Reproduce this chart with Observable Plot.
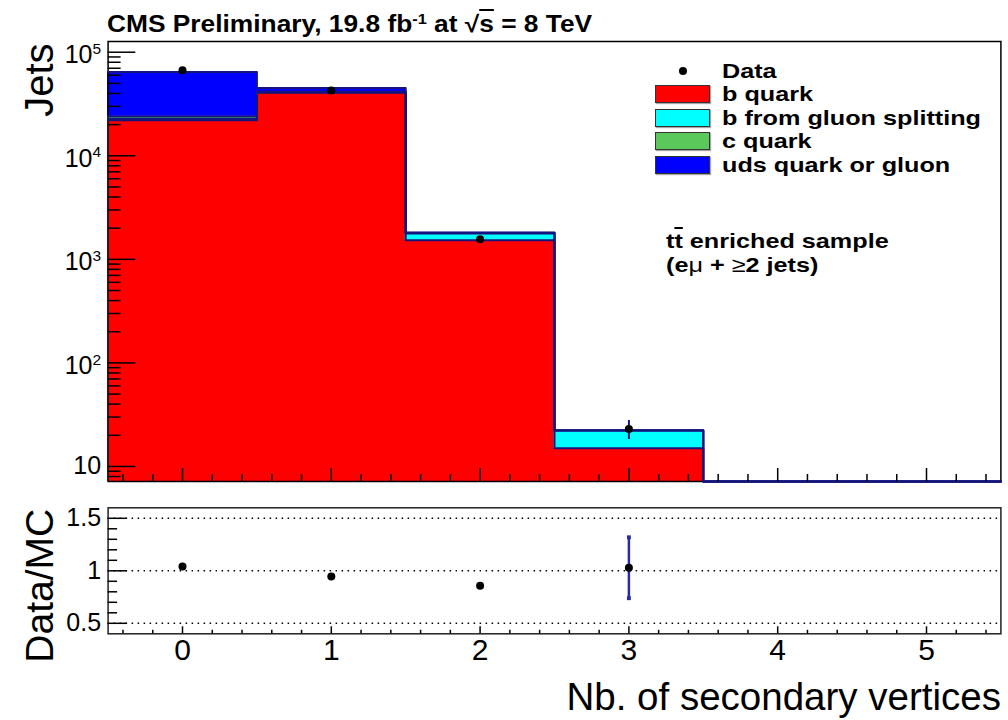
<!DOCTYPE html>
<html>
<head>
<meta charset="utf-8">
<script src="https://cdn.jsdelivr.net/npm/d3@7"></script>
<script src="https://cdn.jsdelivr.net/npm/@observablehq/plot@0.6"></script>
<style>
  body { margin: 0; background: #fff; }
  #chart { position: relative; width: 1008px; height: 720px; overflow: hidden;
           font-family: "Liberation Sans", Arial, Helvetica, sans-serif; color: #000; }
  #chart svg { position: absolute; left: 0; overflow: visible; }
  .wide { display: inline-block; transform-origin: 0 50%; white-space: nowrap; }
  .title { position: absolute; left: 107px; top: 12.6px; font-size: 23.5px; line-height: 23.5px;
           font-weight: bold; white-space: nowrap; }
  .title .wide { transform: scaleX(1.12); }
  .sup { font-size: 0.62em; position: relative; top: -0.55em; }
  .over { text-decoration: overline; }
  .legend { position: absolute; left: 655px; top: 58.75px; font-weight: bold; font-size: 21px; }
  .legend .row { display: flex; align-items: center; height: 23.5px; line-height: 23.5px; white-space: nowrap; }
  .legend .sym { width: 55px; height: 17px; margin-right: 12px; display: flex; align-items: center; justify-content: center; }
  .legend .box { width: 53px; height: 16px; border: 1px solid #333; box-shadow: 1px 1px 1px rgba(0,0,0,0.35); }
  .legend .mark { width: 8px; height: 8px; border-radius: 50%; background: #000; }
  .legend .wide { transform: scaleX(1.2); }
  .note { position: absolute; left: 666px; top: 229.3px; font-weight: bold; font-size: 21px; }
  .note .line { height: 23.5px; line-height: 23.5px; }
  .note .wide { transform: scaleX(1.2); }
  .note .sym { font-weight: normal; }
</style>
</head>
<body>
<div id="chart"></div>
<script>
// Bins: number of reconstructed secondary vertices per jet
const bins = [0, 1, 2, 3, 4, 5];

// Simulated jet counts per flavour (stacked, bottom to top)
const bQuark        = [22000, 40500, 1530, 15,   0, 0];
const bGluonSplit   = [600,   500,   250,  7.2,  0, 0];
const cQuark        = [1400,  600,   20,   0.1,  0, 0];
const udsQuarkGluon = [40400, 3500,  20,   0.05, 0, 0];

// Observed data (bins 0-3) and their statistical errors
const dataBins   = [0, 1, 2, 3];
const dataCounts = [67000, 42700, 1560, 23];
const dataErrors = [259, 207, 39.5, 4.8];
const ratioErrors = [0.004, 0.005, 0.022, 0.29];

// Axis ticks
const yTicksUpper = [10, 100, 1000, 10000, 100000];
const yTicksLower = [0.5, 1, 1.5];
const xTickLabels = ["0", "1", "2", "3", "4", "5"];

const layers = [
  {name: "b quark", values: bQuark, color: "#ff0000"},
  {name: "b from gluon splitting", values: bGluonSplit, color: "#00ffff"},
  {name: "c quark", values: cQuark, color: "#5ac85a"},
  {name: "uds quark or gluon", values: udsQuarkGluon, color: "#0000ff"}
];

const FONT = '"Liberation Sans", Arial, Helvetica, sans-serif';
const NAVY = "#15157e";
const W = 1008;
const frameL = 107.6, frameR = 1000.4;
const frameW = frameR - frameL;
const upperH = 490, upperTop = 41, upperBottom = 9;
const upperFrameH = upperH - upperTop - upperBottom;
const lowerH = 230, lowerTop = 17.3, lowerBottom = 86.7;
const lowerFrameH = lowerH - lowerTop - lowerBottom;
const yDomain = [7.16, 1.269e5];
const yFloor = yDomain[0];

// Cumulative stack
let running = bins.map(() => 0);
const stacked = layers.map((layer, k) => {
  const lo = running;
  const hi = lo.map((v, i) => v + layer.values[i]);
  running = hi;
  return {layer, k, lo, hi};
});
const totals = running;

const stackRects = stacked.flatMap(({layer, lo, hi}) =>
  bins.filter(i => hi[i] > lo[i]).map(i => ({
    bin: i, lo: Math.max(lo[i], yFloor), hi: hi[i], color: layer.color
  })));

// Step outline of each cumulative layer (empty bins sit on the frame floor)
const outline = stacked.flatMap(({hi, k}) => [
  ...bins.map(i => ({k, edge: i - 0.5, top: Math.max(hi[i], yFloor)})),
  {k, edge: bins.length - 0.5, top: Math.max(hi[bins.length - 1], yFloor)}
]);

const dataPts = dataBins.map((b, i) => ({bin: b, v: dataCounts[i], e: dataErrors[i]}));
const ratioPts = dataBins.map((b, i) => ({bin: b, r: dataCounts[i] / totals[b], e: ratioErrors[i]}));

// Minor ticks
const yMinorUpper = d3.range(0, 6).flatMap(p => d3.range(2, 10).map(m => m * 10 ** p))
  .filter(v => v > yDomain[0] && v < yDomain[1]);
const xMajor = bins;
const xMinor = d3.range(-2, 28).filter(k => k % 5 !== 0).map(k => k * 0.2);
const yMinorLower = d3.range(5, 16).filter(k => k % 5 !== 0).map(k => k / 10);

const upper = Plot.plot({
  width: W, height: upperH,
  marginLeft: frameL, marginRight: W - frameR, marginTop: upperTop, marginBottom: upperBottom,
  x: {domain: [-0.5, 5.5], axis: null},
  y: {type: "log", domain: yDomain},
  style: {fontFamily: FONT, background: "transparent"},
  marks: [
    Plot.rect(stackRects, {
      x1: d => d.bin - 0.5, x2: d => d.bin + 0.5, y1: "lo", y2: "hi", fill: "color",
      insetLeft: -0.5, insetRight: -0.5
    }),
    Plot.frame({stroke: "#000", strokeWidth: 1.5}),
    Plot.line(outline, {x: "edge", y: "top", z: "k", curve: "step-after", stroke: NAVY, strokeWidth: 2}),
    Plot.tickY(yTicksUpper, {y: d => d, insetRight: frameW - 27.7, stroke: "#000", strokeWidth: 1.5}),
    Plot.tickY(yMinorUpper, {y: d => d, insetRight: frameW - 13, stroke: "#000", strokeWidth: 1.5}),
    Plot.tickX(xMajor, {x: d => d, insetTop: upperFrameH - 13, stroke: "#000", strokeWidth: 1.5}),
    Plot.tickX(xMinor, {x: d => d, insetTop: upperFrameH - 7, stroke: "#000", strokeWidth: 1.5}),
    Plot.axisY(yTicksUpper, {
      tickSize: 0, tickPadding: 7, fontSize: 25, label: null,
      tickFormat: d => d === 10 ? "10" : "10^" + Math.round(Math.log10(d))
    }),
    Plot.ruleX(dataPts, {x: "bin", y1: d => d.v - d.e, y2: d => d.v + d.e, stroke: NAVY, strokeWidth: 2}),
    Plot.dot(dataPts, {x: "bin", y: "v", r: 4, fill: "#000"}),
    Plot.text(["Jets"], {
      frameAnchor: "top-left", rotate: -90, textAnchor: "end", lineAnchor: "bottom",
      dx: 52 - frameL, dy: 2, fontSize: 40
    })
  ]
});
upper.style.top = "0px";

// Powers of ten as superscripts
d3.select(upper).selectAll('g[aria-label="y-axis tick label"] text').each(function () {
  const s = this.textContent;
  if (!s.includes("^")) return;
  const [base, exp] = s.split("^");
  this.textContent = "";
  const t = d3.select(this);
  t.append("tspan").attr("dy", "0.12em").text(base);
  t.append("tspan").attr("dy", "-0.6em").attr("font-size", "0.62em").text(exp);
});

const lower = Plot.plot({
  width: W, height: lowerH,
  marginLeft: frameL, marginRight: W - frameR, marginTop: lowerTop, marginBottom: lowerBottom,
  x: {domain: [-0.5, 5.5]},
  y: {domain: [0.4, 1.6]},
  style: {fontFamily: FONT, background: "transparent"},
  marks: [
    Plot.ruleY(yTicksLower, {y: d => d, stroke: "#000", strokeWidth: 1.5, strokeDasharray: "1.5,4.5"}),
    Plot.frame({stroke: "#222", strokeWidth: 1.5}),
    Plot.tickY(yTicksLower, {y: d => d, insetRight: frameW - 19, stroke: "#000", strokeWidth: 1.5}),
    Plot.tickY(yMinorLower, {y: d => d, insetRight: frameW - 9.5, stroke: "#000", strokeWidth: 1.5}),
    Plot.tickX(xMajor, {x: d => d, insetTop: lowerFrameH - 7, stroke: "#000", strokeWidth: 1.5}),
    Plot.tickX(xMinor, {x: d => d, insetTop: lowerFrameH - 3.5, stroke: "#000", strokeWidth: 1.5}),
    Plot.axisY(yTicksLower, {tickSize: 0, tickPadding: 7, fontSize: 25, label: null, tickFormat: d => String(d)}),
    Plot.axisX(xMajor, {tickSize: 0, tickPadding: 5, fontSize: 30, label: null, tickFormat: (d, i) => xTickLabels[i]}),
    Plot.ruleX(ratioPts, {x: "bin", y1: d => d.r - d.e, y2: d => d.r + d.e, stroke: "#2a2aa6", strokeWidth: 2.5}),
    Plot.dot(ratioPts.filter(d => d.e > 0.05).flatMap(d => [{bin: d.bin, y: d.r - d.e}, {bin: d.bin, y: d.r + d.e}]),
      {x: "bin", y: "y", symbol: "square", r: 2.2, fill: "#2a2aa6"}),
    Plot.dot(ratioPts, {x: "bin", y: "r", r: 4, fill: "#000"}),
    Plot.text(["Data/MC"], {
      frameAnchor: "top-left", rotate: -90, textAnchor: "end", lineAnchor: "bottom",
      dx: 52 - frameL, dy: 1, fontSize: 39
    }),
    Plot.text(["Nb. of secondary vertices"], {
      frameAnchor: "bottom-right", textAnchor: "end", lineAnchor: "bottom",
      dy: 709 - (upperH + lowerH - lowerBottom), fontSize: 38.5
    })
  ]
});
lower.style.top = upperH + "px";

const chart = document.getElementById("chart");
chart.append(upper, lower);

// Title
const title = document.createElement("div");
title.className = "title";
title.innerHTML = '<span class="wide">CMS Preliminary, 19.8 fb<span class="sup">-1</span> at √<span class="over">s</span> = 8 TeV</span>';
chart.append(title);

// Legend
const legend = document.createElement("div");
legend.className = "legend";
const dataRow = document.createElement("div");
dataRow.className = "row";
dataRow.innerHTML = '<div class="sym"><div class="mark"></div></div><span class="wide">Data</span>';
legend.append(dataRow);
layers.forEach(layer => {
  const row = document.createElement("div");
  row.className = "row";
  const sym = document.createElement("div");
  sym.className = "sym";
  const box = document.createElement("div");
  box.className = "box";
  box.style.background = layer.color;
  sym.append(box);
  const label = document.createElement("span");
  label.className = "wide";
  label.textContent = layer.name;
  row.append(sym, label);
  legend.append(row);
});
chart.append(legend);

// Selection note
const note = document.createElement("div");
note.className = "note";
note.innerHTML =
  '<div class="line"><span class="wide">t<span class="over">t</span> enriched sample</span></div>' +
  '<div class="line"><span class="wide">(e<span class="sym">μ</span> + <span class="sym">≥</span>2 jets)</span></div>';
chart.append(note);
</script>
</body>
</html>
